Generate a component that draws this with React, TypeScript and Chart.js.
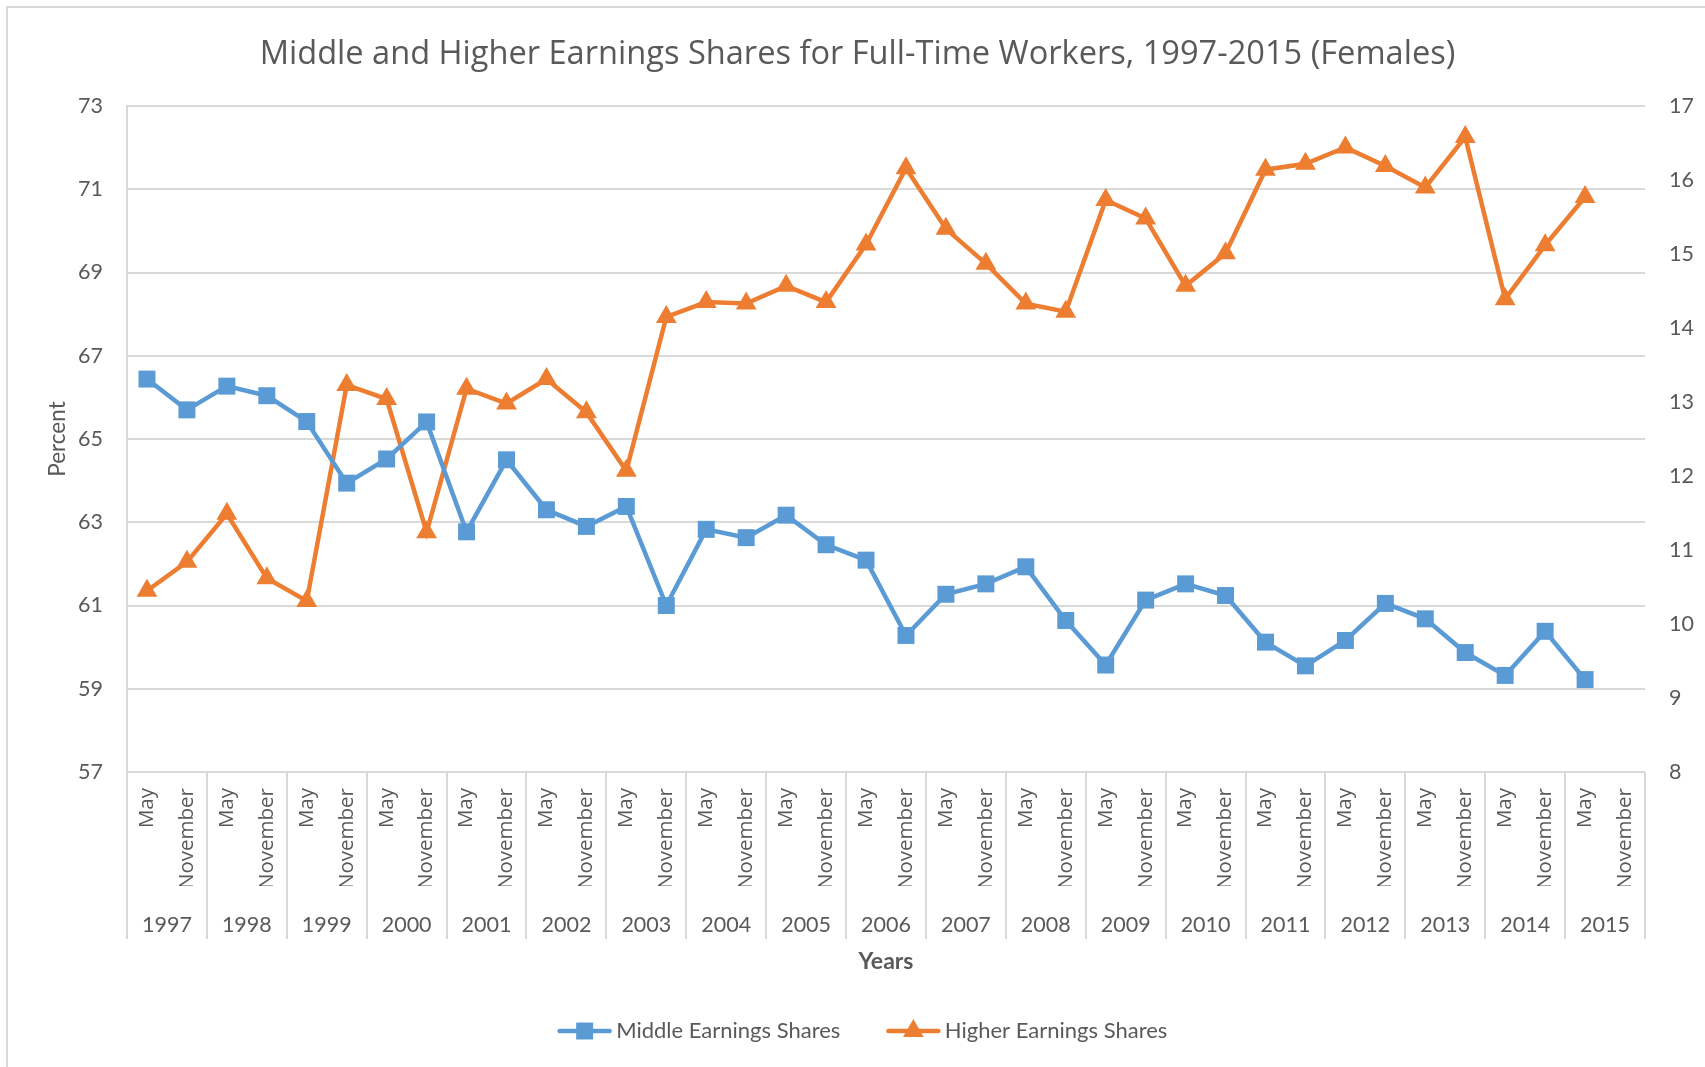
import React, { useEffect, useRef } from "react";
import { Chart, registerables } from "chart.js";

Chart.register(...registerables);

const years = ["1997", "1998", "1999", "2000", "2001", "2002", "2003", "2004", "2005", "2006", "2007", "2008", "2009", "2010", "2011", "2012", "2013", "2014", "2015"];
const halves = ["May", "November"];
const monthLabels = years.flatMap(() => halves);

const middleShares = [
  66.44, 65.7, 66.27, 66.04, 65.42, 63.94, 64.52, 65.41, 62.77, 64.5,
  63.3, 62.9, 63.38, 61.0, 62.83, 62.63, 63.17, 62.46, 62.09, 60.28,
  61.27, 61.52, 61.93, 60.64, 59.57, 61.13, 61.52, 61.24, 60.12, 59.55,
  60.16, 61.05, 60.68, 59.87, 59.32, 60.38, 59.22, null,
];
const higherShares = [
  10.45, 10.84, 11.49, 10.62, 10.31, 13.23, 13.04, 11.24, 13.18, 12.98,
  13.31, 12.86, 12.07, 14.15, 14.35, 14.33, 14.57, 14.35, 15.13, 16.16,
  15.34, 14.87, 14.33, 14.22, 15.73, 15.48, 14.57, 15.01, 16.14, 16.22,
  16.44, 16.19, 15.9, 16.58, 14.39, 15.12, 15.77, null,
];

const leftAxis = { min: 57, max: 73, step: 2 };
const rightAxis = { min: 8, max: 17, step: 1 };

const TITLE = "Middle and Higher Earnings Shares for Full-Time Workers, 1997-2015 (Females)";
const TEXT = "#595959";
const GRID = "#d9d9d9";
const BLUE = "#5B9BD5";
const ORANGE = "#ED7D31";
const NUM_FONT = "Lato";

function drawMarker(ctx: CanvasRenderingContext2D, style: string, x: number, y: number, r: number, color: string) {
  ctx.fillStyle = color;
  ctx.beginPath();
  if (style === "rect") {
    const s = r * Math.SQRT1_2;
    ctx.rect(x - s, y - s, 2 * s, 2 * s);
  } else {
    const w = r * Math.sin(Math.PI / 3);
    ctx.moveTo(x, y - r);
    ctx.lineTo(x + w, y + r / 2);
    ctx.lineTo(x - w, y + r / 2);
    ctx.closePath();
  }
  ctx.fill();
}

const yearSeparators = {
  id: "yearSeparators",
  afterDraw(chart: any) {
    const { ctx, chartArea } = chart;
    const xs = chart.scales.x;
    const x2 = chart.scales.x2;
    const step = xs.getPixelForValue(1) - xs.getPixelForValue(0);
    const yEnd = x2.top + 53;
    ctx.save();
    ctx.strokeStyle = GRID;
    ctx.lineWidth = 2;
    for (let k = 0; k <= years.length; k++) {
      const px = Math.round(xs.getPixelForValue(2 * k) - step / 2);
      ctx.beginPath();
      ctx.moveTo(px, chartArea.bottom);
      ctx.lineTo(px, yEnd);
      ctx.stroke();
    }
    ctx.restore();
  },
};

const lineLegend = {
  id: "lineLegend",
  afterDraw(chart: any) {
    const { ctx } = chart;
    const sets = chart.data.datasets;
    const lineW = 54;
    const gap = 4.5;
    const itemGap = 46;
    ctx.save();
    ctx.font = `22px ${NUM_FONT}`;
    const widths = sets.map((d: any) => lineW + gap + ctx.measureText(d.label).width);
    const total = widths.reduce((a: number, b: number) => a + b, 0) + itemGap * (sets.length - 1);
    let x = chart.width / 2 + 10 - total / 2;
    const y = 1031;
    sets.forEach((d: any, i: number) => {
      ctx.strokeStyle = d.borderColor;
      ctx.lineWidth = 4.5;
      ctx.lineCap = "round";
      ctx.beginPath();
      ctx.moveTo(x + 2, y);
      ctx.lineTo(x + lineW - 2, y);
      ctx.stroke();
      drawMarker(ctx, d.pointStyle, x + lineW / 2, y, d.pointRadius, d.borderColor);
      ctx.fillStyle = TEXT;
      ctx.textBaseline = "middle";
      ctx.textAlign = "left";
      ctx.fillText(d.label, x + lineW + gap, y);
      x += widths[i] + itemGap;
    });
    ctx.restore();
  },
};

export default function App() {
  const ref = useRef<HTMLCanvasElement>(null);
  useEffect(() => {
    document.body.style.margin = "0";
    const chart = new Chart(ref.current!, {
      type: "line",
      data: {
        labels: monthLabels,
        datasets: [
          {
            label: "Middle Earnings Shares",
            data: middleShares,
            borderColor: BLUE,
            backgroundColor: BLUE,
            borderWidth: 4.5,
            pointStyle: "rect",
            pointRadius: 12,
            pointBorderWidth: 0,
            tension: 0,
            yAxisID: "y",
            xAxisID: "x",
          },
          {
            label: "Higher Earnings Shares",
            data: higherShares,
            borderColor: ORANGE,
            backgroundColor: ORANGE,
            borderWidth: 4.5,
            pointStyle: "triangle",
            pointRadius: 12,
            pointBorderWidth: 0,
            tension: 0,
            yAxisID: "y1",
            xAxisID: "x",
          },
        ] as any,
      },
      options: {
        responsive: false,
        animation: false,
        layout: { padding: { left: 10, right: 0, top: 0, bottom: 81 } },
        plugins: {
          legend: { display: false },
          tooltip: { enabled: false },
          title: {
            display: true,
            text: TITLE,
            color: TEXT,
            font: { family: "Open Sans", size: 32.6, weight: "normal" },
            padding: { top: 35.5, bottom: 31.4 },
          },
        },
        scales: {
          x: {
            type: "category",
            position: "bottom",
            offset: true,
            weight: 0,
            grid: { display: false, drawTicks: false, tickLength: 0 },
            border: { display: false },
            ticks: {
              autoSkip: false,
              maxRotation: 90,
              minRotation: 90,
              padding: 16,
              color: TEXT,
              font: { family: "Open Sans", size: 20.5 },
            },
            afterFit: (s: any) => { s.height = 114; },
          },
          x2: {
            type: "category",
            position: "bottom",
            labels: years,
            offset: true,
            weight: 1,
            grid: { display: false, drawTicks: false, tickLength: 0 },
            border: { display: false },
            ticks: {
              autoSkip: false,
              maxRotation: 0,
              minRotation: 0,
              padding: 26,
              color: TEXT,
              font: { family: NUM_FONT, size: 21.5 },
            },
            title: {
              display: true,
              text: "Years",
              color: TEXT,
              font: { family: NUM_FONT, size: 23, weight: "bold" },
              padding: { top: 0, bottom: 11 },
            },
            afterFit: (s: any) => { s.height = 100; },
          },
          y: {
            type: "linear",
            position: "left",
            min: leftAxis.min,
            max: leftAxis.max,
            ticks: { stepSize: leftAxis.step, padding: 24, color: TEXT, font: { family: NUM_FONT, size: 21.5 } },
            grid: { color: GRID, lineWidth: 2, drawTicks: false, tickLength: 0 },
            border: { display: true, color: GRID, width: 2 },
            title: {
              display: true,
              text: "Percent",
              color: TEXT,
              font: { family: NUM_FONT, size: 22.5 },
              padding: { top: 34, bottom: 0 },
            },
            afterFit: (s: any) => { s.width = 117; },
          },
          y1: {
            type: "linear",
            position: "right",
            min: rightAxis.min,
            max: rightAxis.max,
            ticks: { stepSize: rightAxis.step, padding: 24, color: TEXT, font: { family: NUM_FONT, size: 21.5 } },
            grid: { display: false, drawOnChartArea: false, drawTicks: false, tickLength: 0 },
            border: { display: false },
            afterFit: (s: any) => { s.width = 60; },
          },
        },
      } as any,
      plugins: [yearSeparators, lineLegend],
    });
    return () => chart.destroy();
  }, []);

  return (
    <div style={{ position: "fixed", left: 0, top: 0, width: 1705, height: 1067, overflow: "hidden", background: "#fff" }}>
      <div
        style={{
          position: "absolute",
          left: 6,
          top: 6,
          width: 1760,
          height: 1120,
          borderLeft: `2px solid ${GRID}`,
          borderTop: `2px solid ${GRID}`,
          boxSizing: "border-box",
        }}
      />
      <canvas ref={ref} width={1705} height={1067} style={{ position: "absolute", left: 0, top: 0 }} />
    </div>
  );
}
